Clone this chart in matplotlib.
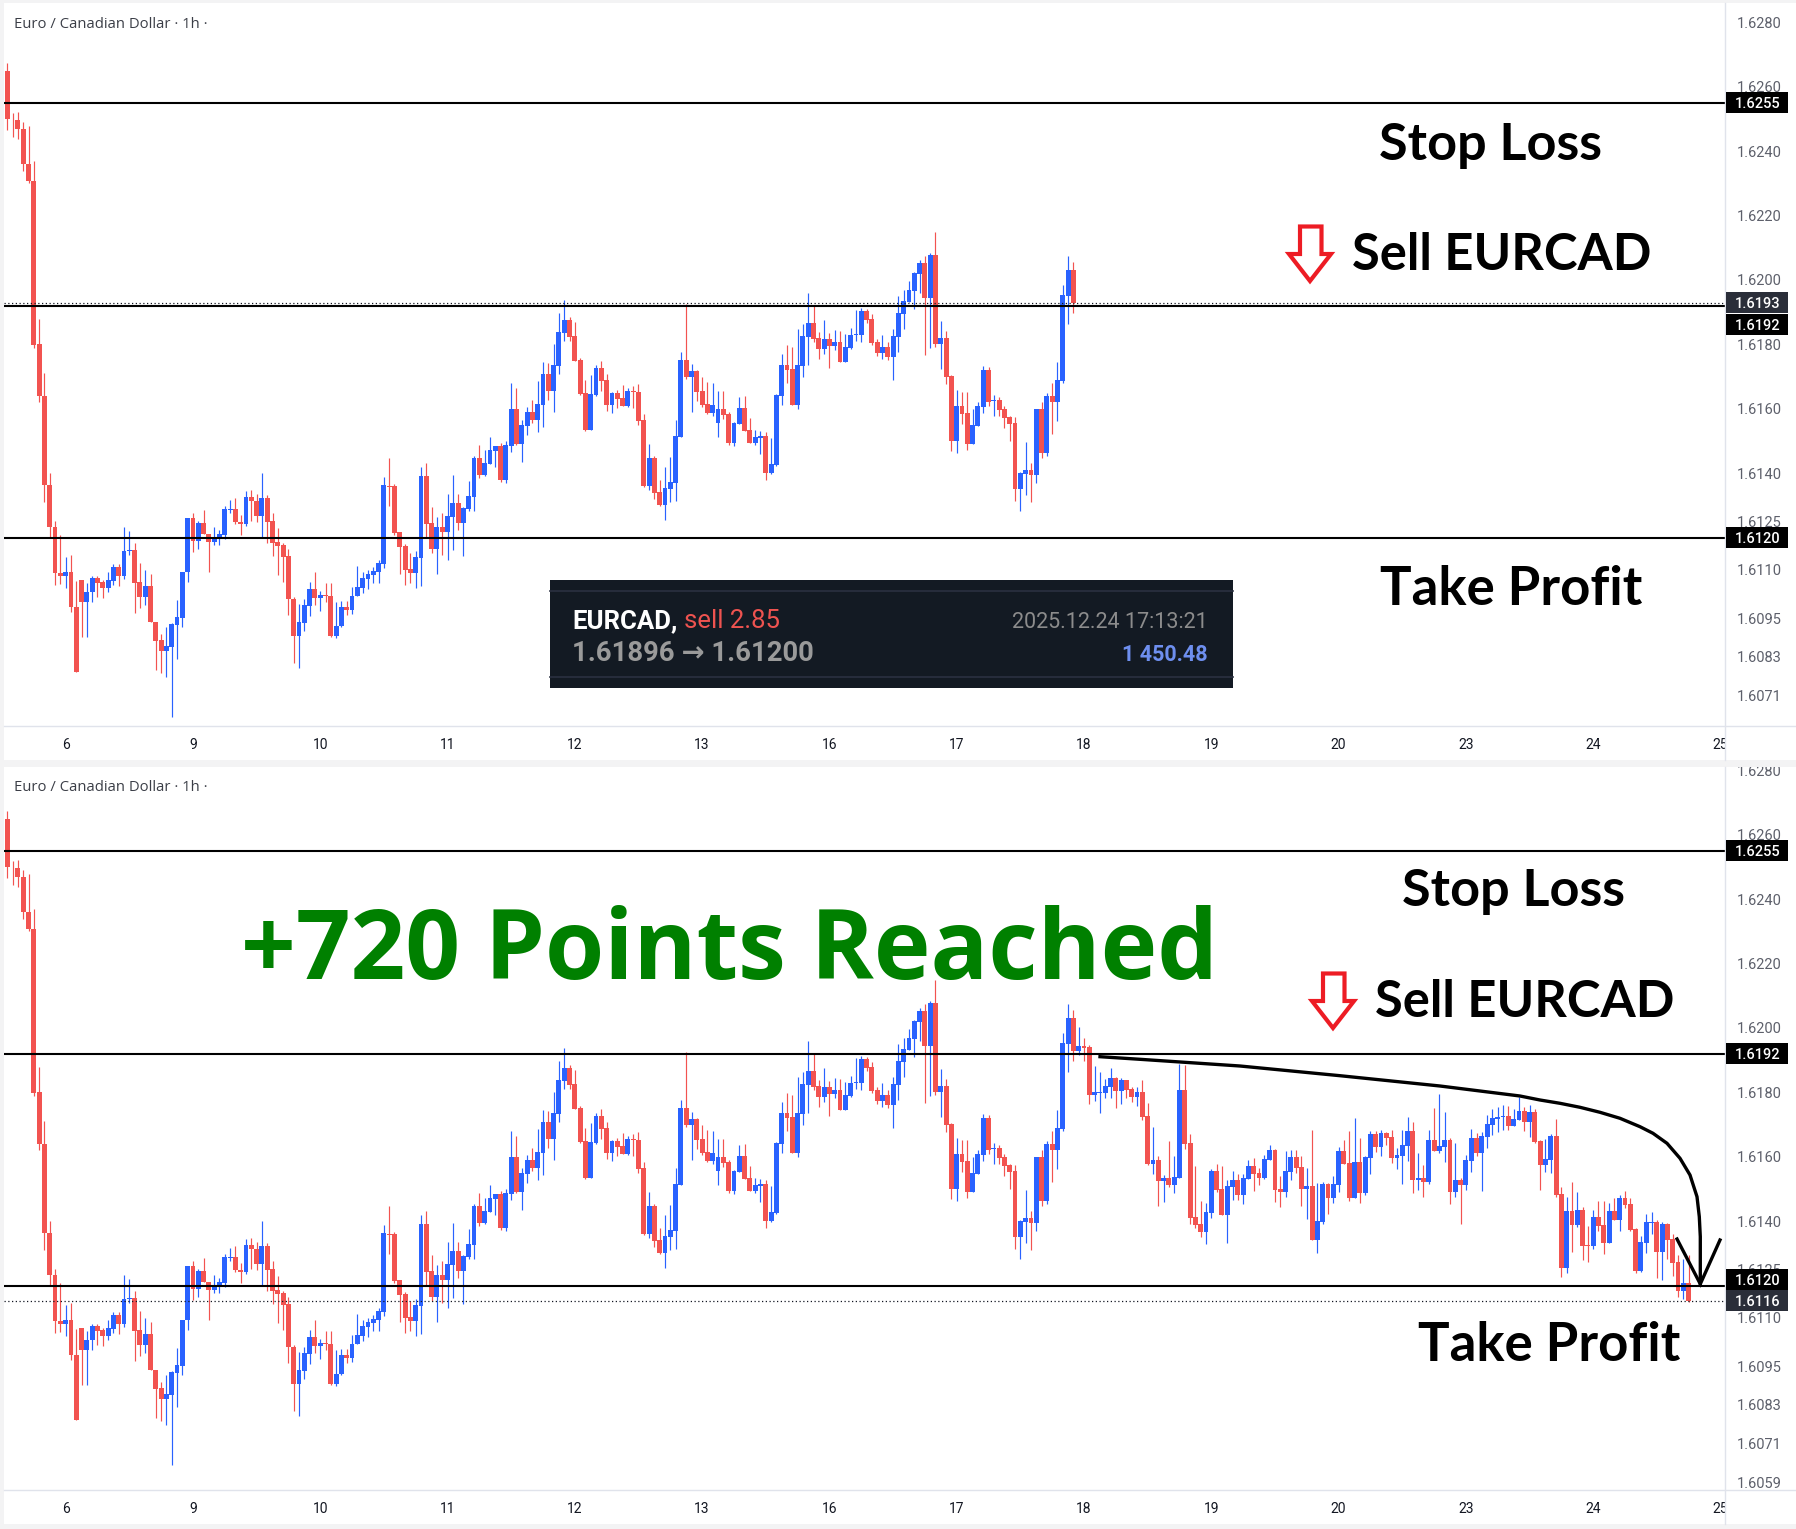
#!/usr/bin/env python
"""EURCAD 1h sell idea: the entry chart on top, the same chart at take profit below."""
import matplotlib
matplotlib.use("Agg")
import matplotlib.pyplot as plt
import numpy as np
from matplotlib.lines import Line2D
from matplotlib.patches import Polygon, Rectangle

# candle values are in 0.0001 above 1.6000 (120.0 = 1.6120)
wick_high = [
    267.4, 251.8, 252.2, 249.1, 247.9, 236.9, 188, 171, 140.1, 125.1,
    120.7, 114, 114.6, 106.6, 106.8, 105.9, 108.1, 108.2, 106.8, 109.3,
    111.8, 111.7, 123.3, 122.1, 118.3, 112.1, 109.9, 108.6, 93.7, 90.2,
    92.3, 93.5, 100.6, 109.5, 126.2, 127.6, 125.1, 128.6, 121.3, 123.3,
    122.4, 129.8, 131.7, 132.3, 127.2, 134.4, 134.8, 133.5, 140.1, 133.2,
    127.6, 123, 118.3, 116.5, 101.6, 99.3, 101, 106.3, 109.3, 103.4,
    105.9, 105.9, 99.9, 100.3, 100.3, 104.6, 111.1, 109.2, 109.9, 111,
    113.1, 138.7, 144.6, 136.8, 121.8, 118, 115.1, 115.8, 141.9, 143.2,
    129.5, 126.4, 127.7, 133.6, 139.4, 133.6, 129.5, 137.6, 145.3, 148.9,
    147.3, 151.3, 148.6, 149.5, 150.1, 168.1, 166.5, 156.6, 160.7, 162.8,
    168.7, 174.6, 174.3, 180.2, 189.8, 193.9, 188.6, 187, 175.9, 169,
    170.6, 173.7, 174.9, 170.9, 165.3, 165.9, 167.5, 166.6, 167.2, 167.8,
    158.5, 149.2, 145.5, 138, 142, 145.1, 156.6, 177.7, 192.6, 174,
    172.1, 170, 168.4, 168.1, 165.6, 165.6, 159.1, 156, 163.8, 164.1,
    157.2, 153.5, 153.2, 152.9, 151, 164.7, 177.1, 179.9, 179.3, 184.9,
    186.4, 196, 192, 183.9, 187.7, 183.6, 184.6, 184.2, 183.3, 185.2,
    190.8, 191.4, 191.1, 189.5, 181.8, 183, 180.8, 184.9, 195.1, 197,
    199.7, 202.5, 206.3, 207.5, 208.4, 215, 187.3, 184.2, 170.6, 165.9,
    165.3, 165.3, 160, 162.2, 173.4, 173.1, 164.4, 163.8, 161, 157.9,
    157.6, 140.5, 149.8, 143.3, 160, 162.2, 165, 168.1, 174.6, 198.5,
    207.5, 205.7, 200.4, 197, 194.8, 188.3, 186.4, 184.2, 187.7, 184.9,
    184.5, 183.9, 181.8, 181.8, 183.9, 176.8, 169.3, 160.3, 154.4, 165,
    160.3, 188.9, 188.6, 167.2, 157.2, 146.4, 145.8, 156.3, 157.9, 157,
    152.9, 155.7, 154.8, 154.8, 159.1, 159.7, 156.6, 160.6, 163.8, 162.5,
    154.1, 161.9, 162.2, 162.2, 160.3, 156.6, 168.4, 152, 152.3, 152,
    154.1, 163.1, 165.3, 168.1, 172.1, 165.9, 160.3, 168.1, 168.1, 168.4,
    167.8, 168.4, 162.8, 168.4, 172.4, 170.9, 161.3, 157.5, 168.4, 175.2,
    179.6, 174, 165.9, 164.4, 153.5, 160.6, 168.7, 167.5, 167.8, 173.1,
    174.9, 175.5, 176.2, 175.9, 174.9, 178.5, 175.5, 176.2, 174.9, 165.3,
    165.6, 167, 171.8, 150.7, 147.6, 152.3, 149.2, 144.5, 138.6, 143.6,
    146.4, 146.4, 145.8, 147.3, 148.2, 149.5, 147.3, 138, 135.5, 142.3,
    143, 140.5, 139.9, 139.6, 136.1, 129.4, 128.4, 129.4,
]
body_top = [
    264.9, 250.1, 249.7, 246.8, 236, 230.7, 180, 164.1, 136.5, 123.2,
    109, 109.3, 109.3, 98.6, 106.8, 103.1, 107.5, 107.5, 106.1, 106.8,
    110.9, 110.9, 115.8, 116.1, 116.1, 106.1, 105, 105, 93.7, 88.2,
    86.3, 93.2, 95.3, 109.3, 126.2, 126.2, 124.6, 124.6, 121.3, 119.9,
    121.1, 128.9, 128.9, 128.9, 125, 132.6, 132.6, 131.5, 132.3, 132.3,
    125.1, 118.6, 117.6, 114.3, 101.1, 93.8, 99.1, 104.1, 104.1, 102.1,
    102.1, 102, 92.7, 98.5, 98.5, 102, 104.6, 107.5, 108.8, 109.6,
    112.1, 136.4, 136.2, 136.1, 121.8, 117.4, 110.3, 114, 139.1, 139.1,
    124.6, 123.3, 123.3, 126.7, 130.8, 130.8, 129.2, 132.9, 144.7, 144.8,
    143.3, 147.3, 148.6, 148.6, 148.9, 160, 160, 155.1, 159.1, 159.1,
    161.6, 170.9, 170.9, 173.7, 183.9, 187.7, 187.7, 182.7, 175.2, 165,
    164.7, 172.8, 172.8, 169, 165, 165, 163.4, 165.6, 165.6, 165.3,
    156.6, 144.8, 144.8, 134.3, 135.5, 137.4, 151.7, 175.2, 175.2, 171.8,
    171.8, 165.6, 161.6, 161.3, 160, 160, 158.5, 155.7, 160.3, 160.3,
    153.5, 151.3, 151.7, 151.7, 143, 164.4, 173.7, 173.7, 172.4, 173.7,
    182.7, 186.7, 186.7, 182.1, 181.8, 181.8, 180.8, 180.8, 179.3, 183,
    183.3, 190.4, 190.4, 188, 180.8, 179.3, 179.3, 182.7, 189.8, 193.6,
    197, 202.2, 205.3, 205.3, 207.8, 207.8, 182.1, 182.1, 170.3, 161,
    161, 158.8, 155.1, 161, 172.1, 172.1, 162.8, 162.8, 160, 157.6,
    155.7, 140.2, 141.1, 141.1, 160, 160, 164.1, 164.1, 169, 195.4,
    203.2, 203.2, 194.5, 194.5, 194.2, 180.2, 180.2, 182.1, 184.5, 184.5,
    183.9, 183.9, 181.1, 180.2, 180.2, 172.8, 159.1, 159.1, 153.5, 153.5,
    153.8, 180.8, 180.8, 164.4, 141.4, 139.2, 143, 155.7, 155.7, 150.1,
    151, 152.9, 152.9, 153.5, 157.2, 157.2, 155.1, 159.4, 162.2, 162.2,
    150.1, 155.7, 160, 160, 156.9, 151, 151, 140.2, 151.7, 151.7,
    151.7, 161.9, 161.9, 158.2, 158.5, 158.5, 160, 167.2, 167.2, 167.5,
    167.5, 166.2, 160.6, 163.8, 168.1, 168.1, 153.5, 153.5, 165.3, 165.3,
    163.4, 165.3, 165.3, 152.9, 152.9, 159.1, 165.9, 165.9, 166.6, 170.3,
    172.1, 172.4, 172.8, 172.8, 171.8, 174.3, 174.3, 174, 174, 165,
    159.4, 166.6, 166.6, 148.6, 143.3, 143.3, 143.6, 143.6, 132.7, 141.4,
    141.4, 138.9, 143.3, 143.3, 147.3, 147.3, 145.5, 137.7, 133.7, 139.9,
    139.9, 139.9, 139.2, 139.2, 134.6, 127.4, 120.9, 120.9,
]
body_bottom = [
    249.8, 249.8, 246.8, 236, 230.7, 179.9, 164.1, 136.5, 123.2, 108.9,
    108.2, 108.2, 98.5, 78.4, 99.9, 99.9, 103, 106, 104.5, 104.5,
    106.7, 108, 108, 115.8, 106, 101.7, 101.7, 93.7, 88, 84.9,
    84.9, 86, 93, 95.2, 109.2, 119, 119, 121.1, 118.6, 118.6,
    119.6, 120.8, 128.6, 124.9, 124.4, 124.3, 131.4, 126.7, 126.7, 124.9,
    118.3, 117.4, 114, 101.1, 89.5, 89.5, 93.5, 98.8, 101.3, 101.3,
    101.8, 89.5, 89.5, 92.6, 97.7, 97.7, 102, 104.5, 107.3, 108.4,
    109.3, 111.9, 135.7, 121.6, 117.1, 110.1, 109, 109, 113.7, 124.3,
    116.5, 116.5, 121.8, 121.8, 126.4, 124.6, 124.6, 128.9, 132.6, 139.6,
    139.6, 142.9, 147, 138, 138, 148.6, 149.2, 149.2, 154.8, 156.6,
    156.6, 161.3, 165.6, 165.6, 173.4, 183.6, 182.4, 174.9, 164.7, 153.5,
    153.5, 164.4, 168.7, 161.3, 161.3, 163.1, 161, 161, 165.3, 156.3,
    136.1, 136.1, 134, 130.2, 130.2, 135.2, 137.1, 151.3, 170, 170,
    165.3, 161.3, 158.8, 158.8, 155.7, 158.2, 149.5, 149.5, 155.4, 153.2,
    149.5, 149.5, 151, 140.2, 140.2, 142.6, 164.1, 172.1, 161.3, 161.3,
    173.4, 182.4, 181.8, 178.7, 178.7, 179.6, 179.6, 174.6, 174.6, 178.9,
    183, 183, 187.7, 180.5, 177.4, 177.4, 176.2, 176.2, 182.4, 189.5,
    193.2, 196.6, 201.9, 194.5, 194.5, 180.2, 180.2, 170, 150.1, 150.1,
    158.5, 149.2, 149.2, 154.8, 160.6, 162.2, 162.5, 159.7, 157.2, 155.4,
    135.2, 135.2, 139.8, 139.5, 139.5, 146.4, 146.4, 162.2, 162.2, 168.7,
    195.1, 192.9, 192.9, 193.9, 179.3, 179.3, 179.9, 179.9, 181.8, 180.5,
    180.5, 180.8, 178.7, 178.7, 172.4, 157.9, 157.9, 152.6, 152.6, 151.3,
    151.3, 153.5, 164.1, 141.1, 138.9, 136.8, 136.8, 142.7, 149.8, 142,
    142, 150.7, 148.2, 148.2, 153.2, 154.8, 153.5, 153.5, 159.1, 149.8,
    149.2, 149.2, 155.4, 156.6, 150.1, 150.1, 134.3, 134.3, 139.9, 147.3,
    147.3, 151.3, 157.9, 147.3, 147.3, 148.9, 148.9, 159.7, 163.1, 163.1,
    165.9, 159.7, 159.7, 160.3, 163.4, 152.9, 152.9, 152.3, 152.3, 161.9,
    161.9, 163.1, 149.2, 149.2, 151.3, 151.3, 158.8, 161.3, 161.3, 166.2,
    170, 171.8, 172.4, 169.6, 169.6, 171.5, 170.9, 170.9, 164.7, 157.6,
    157.6, 159.1, 148.2, 125.6, 125.6, 138.9, 138.9, 132.4, 132.4, 132.4,
    138.6, 133.3, 133.3, 140.5, 140.5, 145.1, 137.4, 124.7, 124.7, 133.3,
    139.6, 130.6, 130.6, 134.3, 127.2, 118.4, 118.4, 115.3,
]
wick_low = [
    246.6, 244.4, 243.7, 233.7, 230, 178.8, 162, 131, 120, 105.4,
    105.7, 104.5, 96.8, 78.4, 89.1, 89.1, 99.9, 101.7, 101.3, 103.1,
    105.4, 105, 107.2, 114.7, 96.6, 98.2, 99, 93.7, 79, 78.1,
    76.9, 64.5, 82.3, 92.4, 106.4, 115.6, 116.6, 121.1, 109.3, 117.6,
    117.6, 119.6, 127.6, 124.4, 120.8, 123.6, 125.3, 124.9, 120, 118.2,
    114.2, 108.4, 106.3, 96, 81, 79.5, 91, 95.6, 99.1, 97.3,
    99.9, 89.1, 88.8, 92.3, 96, 96.4, 102, 102.8, 104.1, 105.9,
    105.9, 110.7, 129.9, 120.9, 108.7, 105.4, 105.9, 104.4, 105, 119.9,
    115.3, 108.7, 114.7, 113.1, 116.2, 122.4, 114.3, 128.3, 128.3, 138.4,
    139.2, 142.9, 142, 137.4, 137.1, 146.7, 148.9, 143.6, 151.9, 155.7,
    152.9, 154.4, 162.8, 159.1, 170.9, 181.1, 181.1, 174.9, 164.4, 153.2,
    153.5, 164.1, 165.6, 159.4, 158.8, 160.4, 161, 160.6, 160.4, 155.1,
    135.8, 134.9, 132.1, 129.9, 125.6, 131.2, 131.5, 151.3, 169.3, 159.1,
    162.5, 160.7, 158.5, 157.9, 151.3, 156.9, 148.9, 148.6, 155.4, 153.2,
    149.5, 148.9, 146.1, 138, 139.9, 142.3, 161.3, 168.1, 161.3, 160,
    170, 173.7, 180.8, 175.6, 177.1, 172.8, 178.3, 174.6, 174.6, 178.7,
    181.1, 180.8, 186.7, 179.9, 176.5, 175.6, 175.2, 169, 177.7, 184.9,
    193.2, 191.1, 196, 176.8, 179, 179.3, 172.4, 167.8, 147, 146.4,
    155.4, 147.3, 149.2, 154.8, 158.8, 161, 157.9, 157.9, 154.1, 150.1,
    131.5, 128.4, 133.3, 131.2, 137.1, 144.8, 145.4, 152.3, 156.3, 168.1,
    186.4, 189.8, 191.7, 189.8, 176.5, 177.4, 173.7, 178.3, 178.3, 175.2,
    176.5, 178.3, 177.1, 175.9, 171.5, 157.6, 154.8, 144.8, 146.1, 150.7,
    148.9, 153.5, 162.5, 139.2, 138, 135.2, 133, 141.1, 149.2, 142,
    133.3, 146.7, 146.7, 145.4, 153.2, 149.5, 151.3, 153.2, 159.1, 146.1,
    144.5, 147.6, 152.9, 155.1, 144.8, 140.8, 134.3, 130.2, 139.2, 142.3,
    145.8, 149.2, 157.9, 146.4, 147.3, 145.8, 148, 154.8, 161.6, 160.3,
    163.8, 158.2, 156.3, 151.6, 158.8, 148.9, 149.8, 147.6, 151.6, 161.9,
    161.3, 158.5, 145.4, 147.6, 139.2, 149.8, 155.4, 160.3, 149.5, 162.8,
    166.8, 167.8, 168.4, 168.4, 169.6, 171.5, 168.1, 166.2, 164.4, 149.8,
    155.4, 155.1, 147.6, 122.8, 124, 130.6, 138.3, 128.1, 127.4, 131.5,
    137.1, 129.9, 133.3, 140.5, 137.1, 144.2, 137.1, 124, 124.3, 130.2,
    136.1, 122.5, 121.9, 128.4, 123, 116.6, 115.8, 115,
]
# runs of candles (first, last) that closed up and are drawn blue, the rest are red
up_ranges = [
    (11, 11), (15, 16), (19, 20), (22, 23), (26, 26), (30, 34), (36, 36), (39, 42), (45, 45), (48, 48),
    (55, 57), (59, 59), (62, 63), (65, 71), (77, 78), (81, 81), (83, 84), (86, 88), (90, 92), (94, 95),
    (97, 98), (100, 101), (103, 105), (110, 111), (114, 114), (117, 117), (121, 121), (124, 127), (129, 129),
    (133, 134), (137, 138), (141, 142), (144, 146), (149, 151), (154, 154), (156, 156), (158, 161), (165, 165),
    (167, 172), (174, 174), (176, 176), (179, 179), (182, 184), (186, 186), (191, 192), (194, 194), (196, 196),
    (198, 200), (202, 202), (205, 208), (210, 210), (213, 213), (216, 216), (218, 218), (220, 221), (226, 227),
    (230, 231), (233, 234), (237, 238), (241, 242), (245, 245), (247, 248), (250, 251), (254, 254), (256, 257),
    (259, 259), (262, 264), (266, 266), (268, 268), (270, 271), (273, 273), (275, 276), (278, 282), (284, 285),
    (287, 287), (290, 291), (294, 294), (296, 296), (299, 299), (302, 302), (304, 304), (308, 310), (312, 312),
    (316, 316),
]

day_labels = ["6", "9", "10", "11", "12", "13", "16", "17", "18", "19", "20", "23", "24", "25"]
price_ticks_top = [1.6280, 1.6260, 1.6240, 1.6220, 1.6200, 1.6180, 1.6160, 1.6140, 1.6125,
                   1.6110, 1.6095, 1.6083, 1.6071]
price_ticks_bottom = price_ticks_top + [1.6059]
stop_loss = 1.6255
entry = 1.6192
take_profit = 1.6120
n_top = 202  # candles already printed on the upper chart

W, H = 1796, 1529
RED, BLUE = "#F25350", "#2962FF"
AXIS = "#E0E3EB"


def fx(x):
    return x / W


def fy(y):
    return 1 - y / H


def x2i(x):
    return (x - 7.3) / 5.304


def draw_candles(ax, n):
    hi = 1.6 + np.array(wick_high[:n]) * 1e-4
    lo = 1.6 + np.array(wick_low[:n]) * 1e-4
    top = 1.6 + np.array(body_top[:n]) * 1e-4
    bot = 1.6 + np.array(body_bottom[:n]) * 1e-4
    up = np.zeros(len(wick_high), dtype=bool)
    for a, b in up_ranges:
        up[a:b + 1] = True
    colors = np.where(up[:n], BLUE, RED)
    x = np.arange(n)
    ax.vlines(x, lo, hi, colors=colors, lw=0.85, zorder=2)
    ax.bar(x, top - bot, bottom=bot, width=0.92, color=colors, lw=0, zorder=3)


def panel(y0, y_axis, y1, p_ref, y_ref, n, ticks, levels, tags, last_close):
    """One TradingView pane. y0/y_axis/y1 are pixel rows, (p_ref, y_ref) pins the price scale."""
    scale = 3.222e4
    x_left, x_right = 4, 1725
    fig = plt.gcf()
    fig.add_artist(Rectangle((fx(x_left), fy(y1)), fx(W - x_left), (y1 - y0) / H,
                             transform=fig.transFigure, fc="white", ec="none", zorder=-1))
    ax = fig.add_axes([fx(x_left), fy(y_axis), (x_right - x_left) / W, (y_axis - y0) / H])
    ax.set_xlim(x2i(x_left), x2i(x_right))
    ax.set_ylim(p_ref - (y_axis - y_ref) / scale, p_ref + (y_ref - y0) / scale)
    for s in ax.spines.values():
        s.set_visible(False)
    ax.set_yticks([])
    ax.set_xticks([11 + 24 * k for k in range(len(day_labels))], day_labels,
                  fontsize=10, color="#131722", family="Roboto")
    ax.tick_params(axis="x", length=0, pad=8.5)

    draw_candles(ax, n)
    for lv in levels:
        ax.axhline(lv, color="black", lw=1.5, zorder=4)
    ax.axhline(last_close, color="#131722", lw=0.9, ls=(0, (1, 2)), zorder=4)

    # price scale pane runs to the bottom of the time axis
    pax = fig.add_axes([fx(x_right), fy(y1), (W - x_right) / W, (y1 - y0) / H], zorder=3)
    pax.set_xlim(0, W - x_right)
    pax.set_ylim(p_ref - (y1 - y_ref) / scale, p_ref + (y_ref - y0) / scale)
    pax.patch.set_facecolor("white")
    for s in ("top", "right", "bottom"):
        pax.spines[s].set_visible(False)
    pax.spines["left"].set_color(AXIS)
    pax.spines["left"].set_linewidth(1.0)
    pax.set_xticks([])
    pax.yaxis.tick_right()
    pax.set_yticks(ticks, [f"{t:.4f}" for t in ticks], fontsize=10.5, color="#5D606B", family="Roboto")
    pax.tick_params(axis="y", length=0, pad=-42.5)
    for lab in pax.get_yticklabels():
        lab.set_clip_box(pax.bbox)
        lab.set_clip_on(True)

    tag_h = 21 / scale
    for text, center, fc in tags:
        pax.add_patch(Rectangle((1, center - tag_h / 2), 62, tag_h, fc=fc, ec="none", zorder=5))
        pax.text(33, center, text, color="white", fontsize=10.5, fontweight="medium", family="Roboto",
                 ha="center", va="center_baseline", zorder=6)

    fig.add_artist(Line2D([fx(x_left), 1], [fy(y_axis), fy(y_axis)], color=AXIS, lw=1.0, zorder=5))
    fig.text(fx(14), fy(y0 + 21), "Euro / Canadian Dollar · 1h ·", fontsize=10.7, color="#3B3E47",
             family="Open Sans", va="center", ha="left")
    return ax


def big_label(x, y, text, size=37.5):
    plt.gcf().text(fx(x), fy(y), text, fontsize=size, fontweight="bold", family="Lato",
                   color="black", ha="left", va="baseline")


def red_arrow(dx, dy):
    shape = np.array([(1300, 226.5), (1321.5, 226.5), (1321.5, 254), (1331, 254),
                      (1310, 281), (1289, 254), (1300, 254)], dtype=float)
    xy = np.column_stack([fx(shape[:, 0] + dx), fy(shape[:, 1] + dy)])
    fig = plt.gcf()
    fig.add_artist(Polygon(xy, closed=True, fc="none", ec="#ED1C24", lw=3.0, joinstyle="miter",
                           transform=fig.transFigure, zorder=6))


def trade_card():
    fig = plt.gcf()
    fig.add_artist(Rectangle((fx(550), fy(688)), 683 / W, 108 / H, transform=fig.transFigure,
                             fc="#131A23", ec="none", zorder=6))
    for y in (591, 677):
        fig.add_artist(Line2D([fx(550), fx(1233)], [fy(y), fy(y)], color="#2A3040", lw=1.2, zorder=7))
    kw = dict(family=["Roboto", "DejaVu Sans"], zorder=8, va="baseline")
    fig.text(fx(572), fy(628), "EURCAD,", color="white", fontsize=18.5, fontweight="bold", ha="left", **kw)
    fig.text(fx(684), fy(628), "sell 2.85", color="#EE5350", fontsize=18.5, ha="left", **kw)
    fig.text(fx(572), fy(661), "1.61896 → 1.61200", color="#9A9A9A", fontsize=19.8, fontweight="bold",
             ha="left", **kw)
    fig.text(fx(1208), fy(628), "2025.12.24 17:13:21", color="#8C8C8C", fontsize=15.5, ha="right", **kw)
    fig.text(fx(1208), fy(661), "1 450.48", color="#6E8FEF", fontsize=15.5, fontweight="bold", ha="right", **kw)


def target_arrow():
    fig = plt.gcf()
    curve = np.array([(1100, 1056.7), (1140, 1059.3), (1240, 1066), (1340, 1075.7), (1440, 1086),
                      (1520, 1096), (1540, 1100), (1560, 1103.3), (1580, 1107.3), (1600, 1112.3),
                      (1620, 1118.3), (1640, 1126.7), (1653, 1133.3), (1667, 1143.3), (1680, 1158.3),
                      (1690, 1175), (1697, 1196.7), (1699.3, 1216.7), (1700.3, 1236.7), (1700.3, 1284)])
    fig.add_artist(Line2D(fx(curve[:, 0]), fy(curve[:, 1]), color="black", lw=2.4, zorder=6,
                          solid_joinstyle="round"))
    fig.add_artist(Line2D([fx(1677), fx(1700.3), fx(1720)], [fy(1239), fy(1284), fy(1240)],
                          color="black", lw=2.4, zorder=6, solid_joinstyle="miter"))


def main() -> int:
    fig = plt.figure(figsize=(W / 100, H / 100), dpi=100, facecolor="#F3F3F4")

    close_top = 1.6 + body_bottom[n_top - 1] * 1e-4
    close_last = 1.6 + body_bottom[-1] * 1e-4

    panel(3, 726, 760, take_profit, 537.7, n_top, price_ticks_top, [stop_loss, entry, take_profit],
          [("1.6255", stop_loss, "black"), ("1.6193", close_top, "#2A2E39"),
           ("1.6192", 1.61862, "black"), ("1.6120", take_profit, "black")], close_top)
    panel(767, 1490, 1524, take_profit, 1285.7, len(wick_high), price_ticks_bottom,
          [stop_loss, entry, take_profit],
          [("1.6255", stop_loss, "black"), ("1.6192", entry, "black"),
           ("1.6120", 1.61220, "black"), ("1.6116", close_last, "#2A2E39")], close_last)

    big_label(1379, 160, "Stop Loss")
    big_label(1352, 270, "Sell EURCAD", 36.5)
    big_label(1380, 605, "Take Profit", 38)
    big_label(1402, 906, "Stop Loss")
    big_label(1375, 1017, "Sell EURCAD", 36.5)
    big_label(1418, 1361, "Take Profit", 38)
    red_arrow(0, 0)
    red_arrow(23, 747)
    trade_card()
    target_arrow()
    fig.text(fx(241), fy(979), "+720 Points Reached", fontsize=69, fontweight="bold", color="#008000",
             family="Open Sans", ha="left", va="baseline", zorder=6)

    fig.savefig("out.png", dpi=100, facecolor=fig.get_facecolor())
    plt.close(fig)
    return 0


if __name__ == "__main__":
    raise SystemExit(main())
